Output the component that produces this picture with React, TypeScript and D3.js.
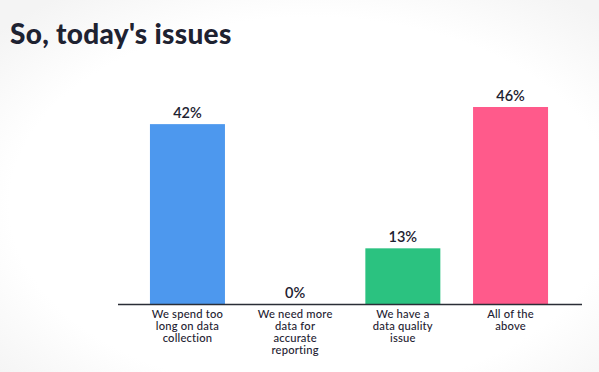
import React, { useEffect, useRef } from 'react';
import * as d3 from 'd3';

const categories = ['c1', 'c2', 'c3', 'c4'];
const categoryLines = [
    ['We spend too', 'long on data', 'collection'],
    ['We need more', 'data for', 'accurate', 'reporting'],
    ['We have a', 'data quality', 'issue'],
    ['All of the', 'above'],
];
const values = [42, 0, 13, 46];
const barColors = ['#4d98ee', '#2bc280', '#2bc280', '#ff5a8b'];
const title = "So, today's issues";

const App: React.FC = () => {
    const svgRef = useRef<SVGSVGElement>(null);

    useEffect(() => {
        if (!svgRef.current) return;
        const width = 599;
        const height = 372;
        const svg = d3.select(svgRef.current);
        svg.selectAll('*').remove();

        // background with soft light-grey corners
        const defs = svg.append('defs');
        const grad = defs.append('radialGradient')
            .attr('id', 'bg-grad')
            .attr('cx', '52%').attr('cy', '55%').attr('r', '70%');
        grad.append('stop').attr('offset', '72%').attr('stop-color', '#ffffff');
        grad.append('stop').attr('offset', '100%').attr('stop-color', '#f4f4f4');
        svg.append('rect')
            .attr('width', width).attr('height', height)
            .attr('fill', 'url(#bg-grad)');

        svg.append('text')
            .attr('x', 10)
            .attr('y', 44)
            .attr('font-family', 'Lato, sans-serif')
            .attr('font-weight', 900)
            .attr('font-size', 28)
            .attr('letter-spacing', 0.3)
            .attr('fill', '#1e2231')
            .text(title);

        const baseline = 304;
        const x = d3.scaleBand<string>()
            .domain(categories)
            .range([133.8, 564.2])
            .paddingInner(0.3036)
            .paddingOuter(0.15);

        const y = d3.scaleLinear()
            .domain([0, 46])
            .range([baseline, 107]);

        const g = svg.append('g');

        g.selectAll('.bar')
            .data(values)
            .enter()
            .append('rect')
            .attr('class', 'bar')
            .attr('x', (_, i) => x(categories[i]) as number)
            .attr('y', d => y(d))
            .attr('width', x.bandwidth())
            .attr('height', d => baseline - y(d))
            .attr('fill', (_, i) => barColors[i]);

        g.selectAll('.val')
            .data(values)
            .enter()
            .append('text')
            .attr('class', 'val')
            .attr('x', (_, i) => (x(categories[i]) as number) + x.bandwidth() / 2)
            .attr('y', d => y(d) - 6)
            .attr('text-anchor', 'middle')
            .attr('font-family', 'Lato, sans-serif')
            .attr('font-weight', 600)
            .attr('font-size', 14.5)
            .attr('fill', '#1e2231')
            .text(d => `${d}%`);

        // Axis line
        g.append('line')
            .attr('x1', 118)
            .attr('x2', 582)
            .attr('y1', baseline + 0.5)
            .attr('y2', baseline + 0.5)
            .attr('stroke', '#2a2d36')
            .attr('stroke-width', 1.5);

        // one text element per label line
        categoryLines.forEach((lines, i) => {
            const cx = (x(categories[i]) as number) + x.bandwidth() / 2;
            g.selectAll(`.cat-${i}`)
                .data(lines)
                .enter()
                .append('text')
                .attr('class', `cat-${i}`)
                .attr('x', cx)
                .attr('y', (_, j) => baseline + 14 + j * 12)
                .attr('text-anchor', 'middle')
                .attr('font-family', 'Lato, sans-serif')
                .attr('font-weight', 500)
                .attr('font-size', 11.2)
                .attr('letter-spacing', 0.2)
                .attr('fill', '#1e2231')
                .text(d => d);
        });
    }, []);

    return (
        <svg
            ref={svgRef}
            width={599}
            height={372}
            style={{ position: 'absolute', left: 0, top: 0 }}
        ></svg>
    );
};

export default App;
